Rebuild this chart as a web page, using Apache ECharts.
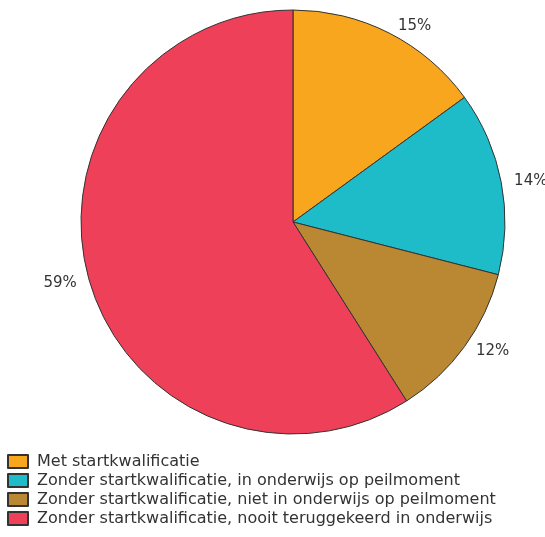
<!DOCTYPE html>
<html>
<head>
<meta charset="utf-8">
<script src="https://cdn.jsdelivr.net/npm/echarts@6/dist/echarts.min.js"></script>
<style>
  html, body { margin: 0; padding: 0; background: #fff; }
  #chart { width: 545px; height: 537px; }
</style>
</head>
<body>
<div id="chart"></div>
<script>
const categories = [
  "Met startkwalificatie",
  "Zonder startkwalificatie, in onderwijs op peilmoment",
  "Zonder startkwalificatie, niet in onderwijs op peilmoment",
  "Zonder startkwalificatie, nooit teruggekeerd in onderwijs"
];
const values = [15, 14, 12, 59];
const colors = ["#F7A61E", "#1EBCC8", "#BA8733", "#EE4058"];

const chart = echarts.init(document.getElementById("chart"));
const font = "'DejaVu Sans', sans-serif";

chart.setOption({
  animation: false,
  textStyle: { fontFamily: font },
  legend: {
    orient: "vertical",
    left: 7,
    top: 453,
    height: 200,
    padding: 0,
    itemWidth: 20,
    itemHeight: 13,
    itemGap: 2,
    icon: "rect",
    textStyle: {
      fontSize: 16, lineHeight: 17, color: "#333", fontFamily: font,
      padding: [0, 0, 0, 4]
    },
    data: categories
  },
  series: [{
    type: "pie",
    center: [293, 222],
    radius: 212,
    startAngle: 90,
    clockwise: true,
    itemStyle: { borderColor: "#333", borderWidth: 1 },
    label: {
      show: true,
      position: "outside",
      formatter: "{c}%",
      fontSize: 15,
      color: "#333",
      fontFamily: font,
      overflow: "none"
    },
    labelLine: { show: false, length: 8, length2: 0 },
    emphasis: { disabled: true },
    data: categories.map((name, i) => ({
      name: name,
      value: values[i],
      itemStyle: { color: colors[i] }
    }))
  }]
});
</script>
</body>
</html>
